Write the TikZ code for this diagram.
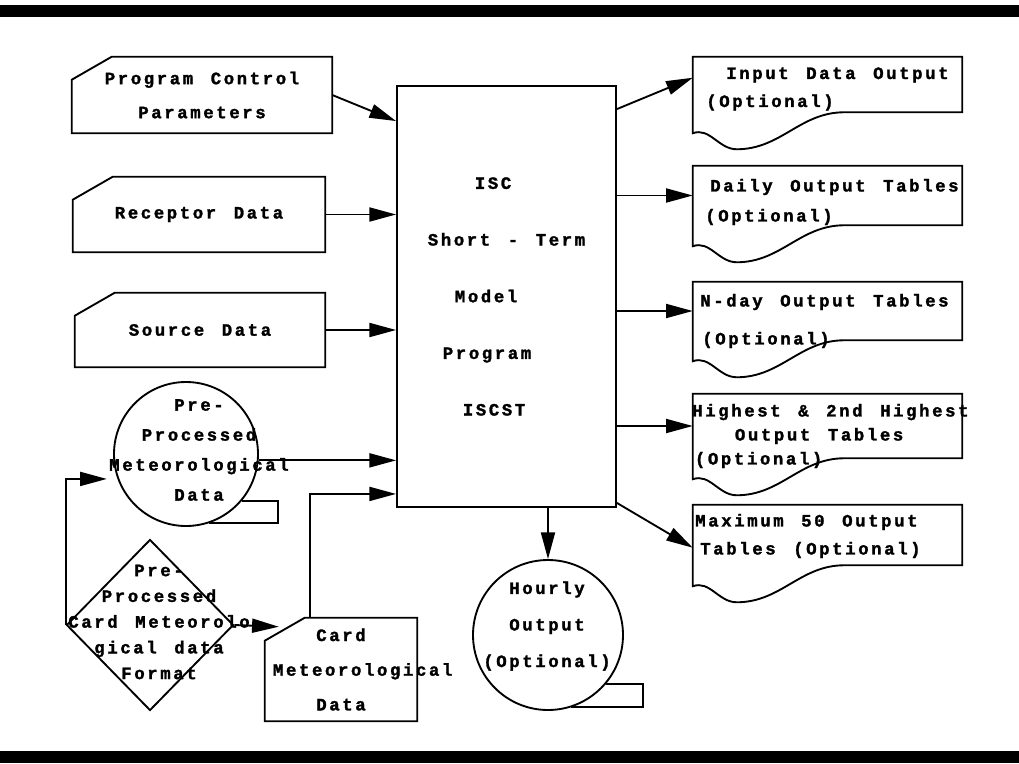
\documentclass[tikz,border=0pt]{standalone}
\usepackage{fontspec}
\newfontfamily\flowfont[LetterSpace=15,WordSpace=1.35,
    BoldFeatures={FakeBold=1.6}]{Liberation Mono}
\usetikzlibrary{arrows.meta,calc,shapes.geometric}

% outlines drawn round named nodes
\newcommand{\cardedge}[1]{%
    \draw [shapeline]
        ($(#1.north west)+(0,23)$)
        -- ($(#1.north west)+(40,0)$)
        -- (#1.north east)
        -- (#1.south east)
        -- (#1.south west)
        -- cycle
        ;}
\newcommand{\docedge}[1]{%
    \draw [shapeline]
        (#1.north west)
        -- (#1.north east)
        -- (#1.south east)
        -- ($(#1.south east)+(-118,0)$)
        to[out=180,in=0] ($(#1.south west)+(44,37)$)
        to[out=180,in=20] ($(#1.south west)+(0,21)$)
        -- cycle
        ;}
\newcommand{\tapetail}[1]{%
    \draw [shapeline]
        (#1.-40)
        -- ($(#1.east |- #1.-40)+(19,0)$)
        |- (#1.-72)
        ;}

\begin{document}
\begin{tikzpicture}[x=0.75pt,y=-0.75pt,
    shapeline/.style={line width=1.4pt},
    arr/.style={line width=1.4pt,-{Triangle[length=20pt,width=10.5pt]}},
    lead/.style={font=\flowfont\bfseries\fontsize{13pt}{#1}\selectfont},
    card/.style={inner sep=0pt,align=center},
    docu/.style={inner sep=0pt,minimum width=201.75pt},
    txt/.style={inner sep=0pt,anchor=west,align=left},
    tape/.style={circle,draw,line width=1.4pt,inner sep=0pt},
    ]
    \useasboundingbox (0,0) rectangle (1019,763);

    \fill (0,5) rectangle (1019,17);
    \fill (0,751) rectangle (1019,763);

    % input cards
    \node [card,lead=25.5pt,minimum width=195pt,minimum height=57pt]
        (ctrl) at (202,95) {Program Control\\Parameters};
    \node [card,lead=25.5pt,minimum width=189pt,minimum height=56.25pt]
        (recp) at (199,214.5) {Receptor Data};
    \node [card,lead=25.5pt,minimum width=187.5pt,minimum height=55.5pt]
        (src) at (200,330) {Source Data};
    \node [card,lead=26pt,inner xsep=6pt,text width=102pt,minimum height=77.25pt]
        (cardmet) at (341,669.5) {Card\\Meteorological\\Data};
    \cardedge{ctrl}
    \cardedge{recp}
    \cardedge{src}
    \cardedge{cardmet}

    % model program
    \node [draw,line width=1.4pt,lead=42.5pt,align=left,
        minimum width=164.25pt,minimum height=315.75pt]
        (box) at (506.5,296.5)
        {\hspace*{35.25pt}ISC\\Short - Term\\\hspace*{20.25pt}Model\\
         \hspace*{11.25pt}Program\\\hspace*{26.25pt}ISCST};

    % tapes
    \node [tape,minimum size=108pt] (met) at (186,454) {};
    \tapetail{met}
    \node [lead=22.5pt,align=center,inner sep=0pt]
        (metlab) at (199,450) {Pre-\\Processed\\Meteorological\\Data};

    \node [tape,minimum size=112.5pt] (hour) at (548,635) {};
    \tapetail{hour}
    \node [lead=27.4pt,align=center,inner sep=0pt]
        (hourlab) at (547,626) {Hourly\\Output\\(Optional)};

    % card format
    \node [diamond,draw,line width=1.4pt,inner sep=0pt,
        minimum width=125.25pt,minimum height=128.25pt]
        (fmt) at (150,625) {};
    \node [lead=19.3pt,align=center,inner sep=0pt]
        (fmtlab) at (159,622)
        {Pre-\\Processed\\Card Meteorolo\\gical data\\Format};

    % output documents
    \node [docu,minimum height=41.25pt] (inp) at (827.5,84.5) {};
    \node [docu,minimum height=44.25pt] (daily) at (827.5,195.5) {};
    \node [docu,minimum height=43.5pt] (nday) at (827.5,311) {};
    \node [docu,minimum height=48pt] (high) at (827.5,426) {};
    \node [docu,minimum height=45pt] (max) at (827.5,535) {};
    \docedge{inp}
    \docedge{daily}
    \docedge{nday}
    \docedge{high}
    \docedge{max}

    \node [txt,lead=21pt] (inplab) at (706,89)
        {\hspace*{15pt}Input Data Output\\(Optional)};
    \node [txt,lead=22.5pt] (dailylab) at (705,202)
        {\hspace*{3.75pt}Daily Output Tables\\(Optional)};
    \node [txt,lead=28.5pt] (ndaylab) at (700,321)
        {N-day Output Tables\\\hspace*{1.5pt}(Optional)};
    \node [txt,lead=18pt] (highlab) at (692,436)
        {Highest \& 2nd Highest\\\hspace*{32pt}Output Tables\\\hspace*{2pt}(Optional)};
    \node [txt,lead=21pt] (maxlab) at (695,536)
        {Maximum 50 Output\\\hspace*{3.75pt}Tables (Optional)};

    % flows into the program
    \draw [arr] (ctrl.east) -- ($(box.north west)+(0,36)$);
    \draw [arr] (recp.east) -- (recp.east -| box.west);
    \draw [arr] (src.east) -- (src.east -| box.west);
    \draw [arr] (met.-5) -- (met.-5 -| box.west);
    \draw [arr]
        ($(cardmet.north west)+(45,0)$)
        |- ($(box.south west)+(0,-14)$)
        ;
    \draw [arr,shorten >=8pt] (fmt.west) |- (met.200);
    \draw [arr] (fmt.east) -- ($(cardmet.north west)+(14,9)$);

    % flows out of the program
    \draw [arr] (box.south -| hour.north) -- (hour.north);
    \draw [arr] ($(box.north east)+(0,24)$) -- ($(inp.north west)+(0,21)$);
    \draw [arr] (box.east |- daily.west) -- (daily.west);
    \draw [arr] (box.east |- nday.west) -- (nday.west);
    \draw [arr] (box.east |- high.west) -- (high.west);
    \draw [arr] ($(box.south east)+(0,-5)$) -- ($(max.north west)+(0,43)$);
\end{tikzpicture}
\end{document}
